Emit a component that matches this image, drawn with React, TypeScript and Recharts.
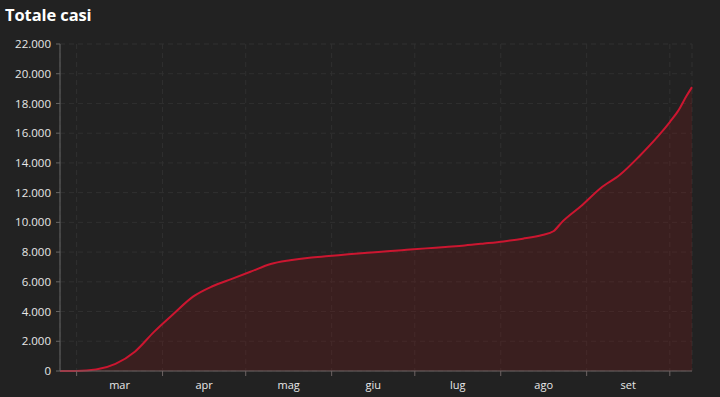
import React from "react";
import { AreaChart, Area, XAxis, YAxis, CartesianGrid } from "recharts";

const startDate = "2020-02-24";
const dates = [
  "2020-02-24", "2020-03-01", "2020-03-08", "2020-03-15", "2020-03-22", "2020-03-29",
  "2020-04-05", "2020-04-12", "2020-04-19", "2020-04-26", "2020-05-03", "2020-05-10",
  "2020-05-17", "2020-05-24", "2020-05-31", "2020-06-07", "2020-06-14", "2020-06-21",
  "2020-06-28", "2020-07-05", "2020-07-12", "2020-07-19", "2020-07-26", "2020-08-02",
  "2020-08-09", "2020-08-16", "2020-08-20", "2020-08-23", "2020-08-30", "2020-09-06",
  "2020-09-13", "2020-09-20", "2020-09-27", "2020-10-01", "2020-10-04", "2020-10-07",
  "2020-10-09",
];
const totals = [
  0, 3, 100, 480, 1300, 2650,
  3850, 5000, 5700, 6200, 6700, 7200,
  7450, 7620, 7730, 7850, 7960, 8050,
  8150, 8250, 8350, 8450, 8580, 8720,
  8900, 9150, 9400, 10000, 11100, 12300,
  13200, 14450, 15850, 16750, 17500, 18500,
  19100,
];
const monthStarts = [
  "2020-03-01", "2020-04-01", "2020-05-01", "2020-06-01",
  "2020-07-01", "2020-08-01", "2020-09-01", "2020-10-01",
];
const monthLabels = ["mar", "apr", "mag", "giu", "lug", "ago", "set"];
const yTicks = [0, 2000, 4000, 6000, 8000, 10000, 12000, 14000, 16000, 18000, 20000, 22000];
const title = "Totale casi";

const dayIndex = (s: string) =>
  Math.round((Date.parse(s + "T00:00:00Z") - Date.parse(startDate + "T00:00:00Z")) / 86400000);

const data = dates.map((d, i) => ({ d: dayIndex(d), v: totals[i] }));
const lastDay = dayIndex(dates[dates.length - 1]);
const monthTicks = monthStarts.map(dayIndex);
const labelTicks = monthLabels.map((_, i) => (monthTicks[i] + monthTicks[i + 1]) / 2);
const labelMap: Record<string, string> = {};
labelTicks.forEach((t, i) => (labelMap[String(t)] = monthLabels[i]));

const fmt = (v: number) => String(v).replace(/\B(?=(\d{3})+(?!\d))/g, ".");

const FONT = "'Open Sans', 'Noto Sans', sans-serif";

export default function App() {
  return (
    <div
      style={{
        position: "absolute",
        left: 0,
        top: 0,
        width: 720,
        height: 397,
        background: "#222222",
        fontFamily: FONT,
        overflow: "hidden",
      }}
    >
      <div
        style={{
          position: "absolute",
          left: 5,
          top: 3,
          color: "#ffffff",
          fontWeight: 700,
          fontSize: 16.5,
          fontFamily: FONT,
          letterSpacing: -0.1,
        }}
      >
        {title}
      </div>
      <AreaChart
        width={720}
        height={397}
        data={data}
        margin={{ top: 44, right: 28, bottom: 0, left: 0 }}
      >
        <CartesianGrid
          xAxisId="a"
          stroke="#303030"
          strokeDasharray="5 4"
        />
        <XAxis
          xAxisId="a"
          dataKey="d"
          type="number"
          domain={[0, lastDay]}
          ticks={monthTicks}
          tickFormatter={() => ""}
          height={8}
          tickSize={5}
          stroke="#6e6464"
          axisLine={{ stroke: "#6e6464" }}
          tickLine={{ stroke: "#6e6464" }}
        />
        <XAxis
          xAxisId="b"
          dataKey="d"
          type="number"
          domain={[0, lastDay]}
          ticks={labelTicks}
          tickFormatter={(t: number) => labelMap[String(t)] ?? ""}
          height={18}
          axisLine={false}
          tickLine={false}
          tickSize={0}
          tickMargin={2}
          tick={{ fill: "#e8e8e8", fontSize: 11, fontFamily: FONT }}
        />
        <YAxis
          type="number"
          domain={[0, 22000]}
          ticks={yTicks}
          tickFormatter={fmt}
          width={60}
          tickSize={4}
          tickMargin={5}
          axisLine={{ stroke: "#666666" }}
          tickLine={{ stroke: "#666666" }}
          tick={{ fill: "#e8e8e8", fontSize: 11.5, fontFamily: FONT }}
        />
        <Area
          xAxisId="a"
          dataKey="v"
          type="monotone"
          stroke="#cc1630"
          strokeWidth={2}
          fill="#7a1818"
          fillOpacity={0.28}
          dot={false}
          activeDot={false}
          isAnimationActive={false}
        />
      </AreaChart>
    </div>
  );
}
